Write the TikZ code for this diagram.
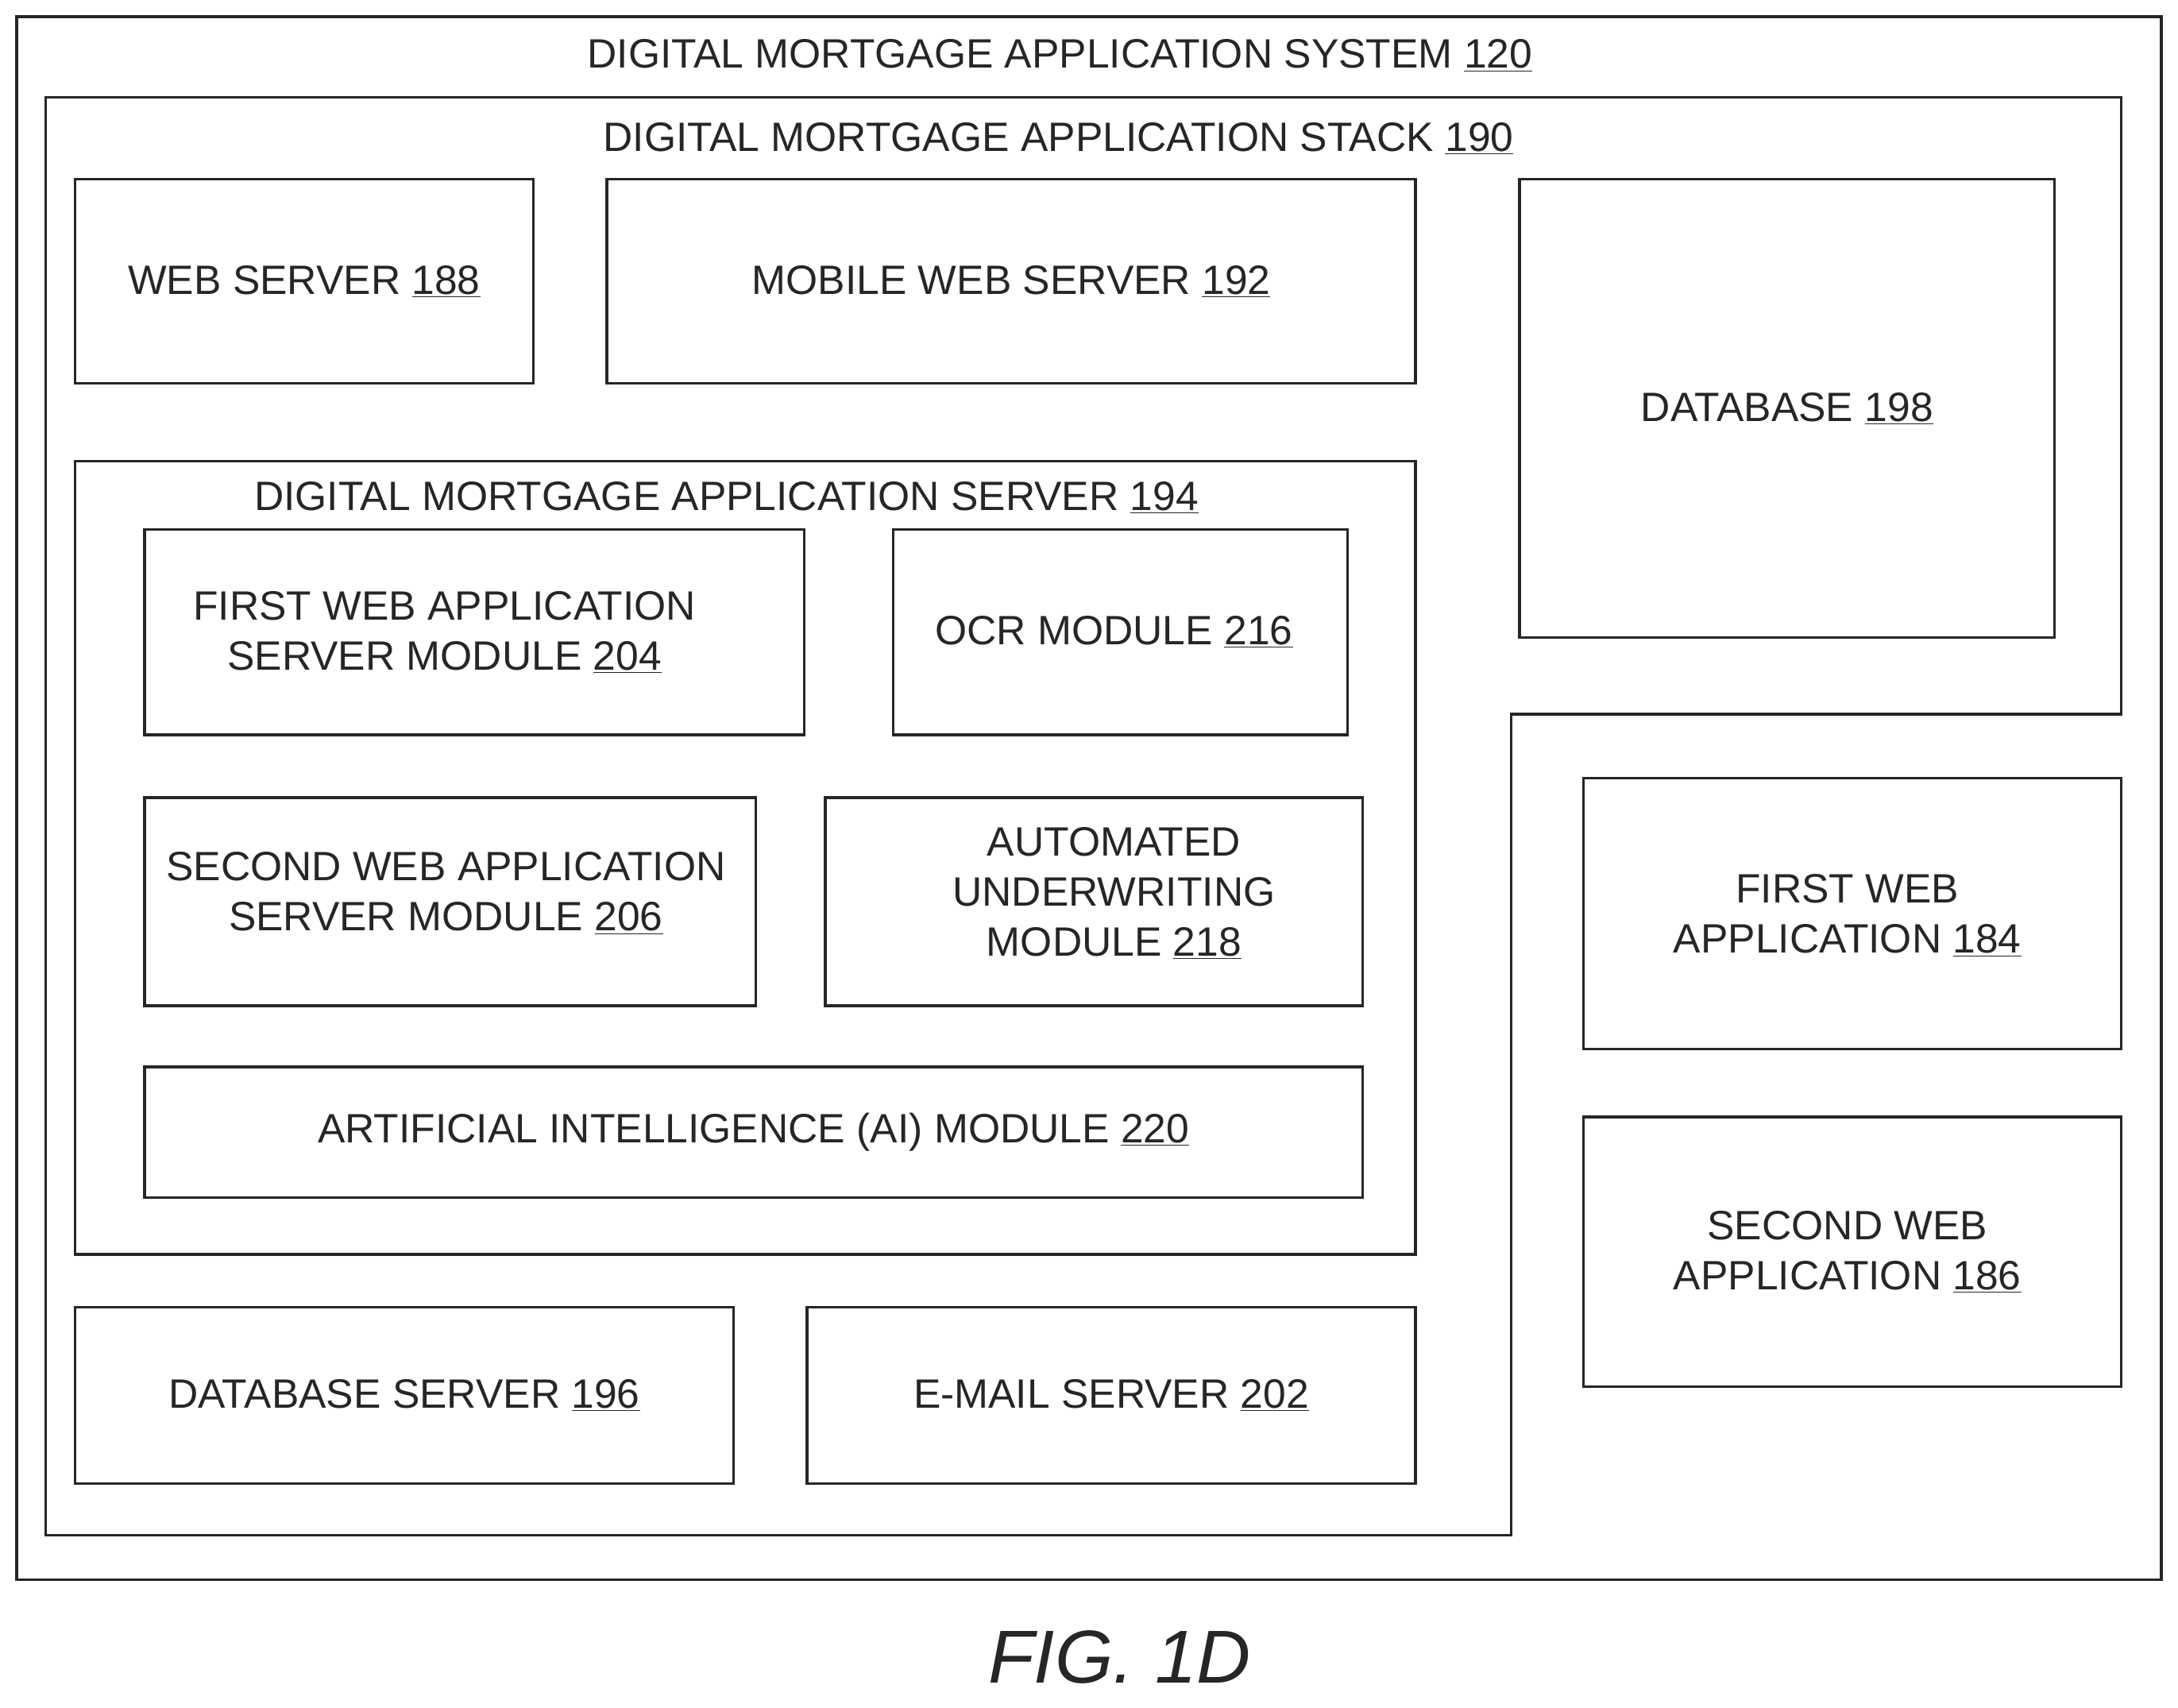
\documentclass[tikz,border=0pt]{standalone}
\usepackage{fontspec}
\setmainfont{Liberation Sans}
\begin{document}
\begin{tikzpicture}[x=1pt,y=-1pt,
  box/.style={draw=black!85,line width=2pt},
  lbl/.style={font=\fontsize{29.5}{36}\selectfont,align=center,text=black!85}]
\useasboundingbox (0,0) rectangle (1568,1229);
\newcommand{\un}[1]{\underline{#1}}
\draw[box] (12,12) rectangle (1556,1137);
\node[lbl] (t1) at (763,40) {DIGITAL MORTGAGE APPLICATION SYSTEM \un{120}};
\draw[box] (33,70) -- (1527,70) -- (1527,514) -- (1088,514) -- (1088,1105) -- (33,1105) -- cycle;
\node[lbl] (t2) at (762,100) {DIGITAL MORTGAGE APPLICATION STACK \un{190}};
\draw[box] (54,129) rectangle (384,276) node[lbl,midway] (ws) {WEB SERVER \un{188}};
\draw[box] (437,129) rectangle (1019,276) node[lbl,midway] (mws) {MOBILE WEB SERVER \un{192}};
\draw[box] (1094,129) rectangle (1479,459) node[lbl,midway] (db) {DATABASE \un{198}};
\draw[box] (54,332) rectangle (1019,903);
\node[lbl] (t3) at (523,358) {DIGITAL MORTGAGE APPLICATION SERVER \un{194}};
\draw[box] (104,381) rectangle (579,529);
\node[lbl] (f) at (320,455) {FIRST WEB APPLICATION\\SERVER MODULE \un{204}};
\draw[box] (643,381) rectangle (970,529);
\node[lbl] (ocr) at (802,455) {OCR MODULE \un{216}};
\draw[box] (104,574) rectangle (544,724);
\node[lbl] (s) at (321,643) {SECOND WEB APPLICATION\\SERVER MODULE \un{206}};
\draw[box] (594,574) rectangle (981,724);
\node[lbl] (au) at (802,643) {AUTOMATED\\UNDERWRITING\\MODULE \un{218}};
\draw[box] (104,768) rectangle (981,862) node[lbl,midway] (ai) {ARTIFICIAL INTELLIGENCE (AI) MODULE \un{220}};
\draw[box] (54,941) rectangle (528,1068) node[lbl,midway] (dbs) {DATABASE SERVER \un{196}};
\draw[box] (581,941) rectangle (1019,1068) node[lbl,midway] (em) {E-MAIL SERVER \un{202}};
\draw[box] (1140,560) rectangle (1527,755);
\node[lbl] (fwa) at (1330,659) {FIRST WEB\\APPLICATION \un{184}};
\draw[box] (1140,804) rectangle (1527,998);
\node[lbl] (swa) at (1330,901) {SECOND WEB\\APPLICATION \un{186}};
\node[font=\fontsize{54}{60}\selectfont\itshape,text=black!85] (fig) at (806,1193) {FIG. 1D};
\end{tikzpicture}
\end{document}
